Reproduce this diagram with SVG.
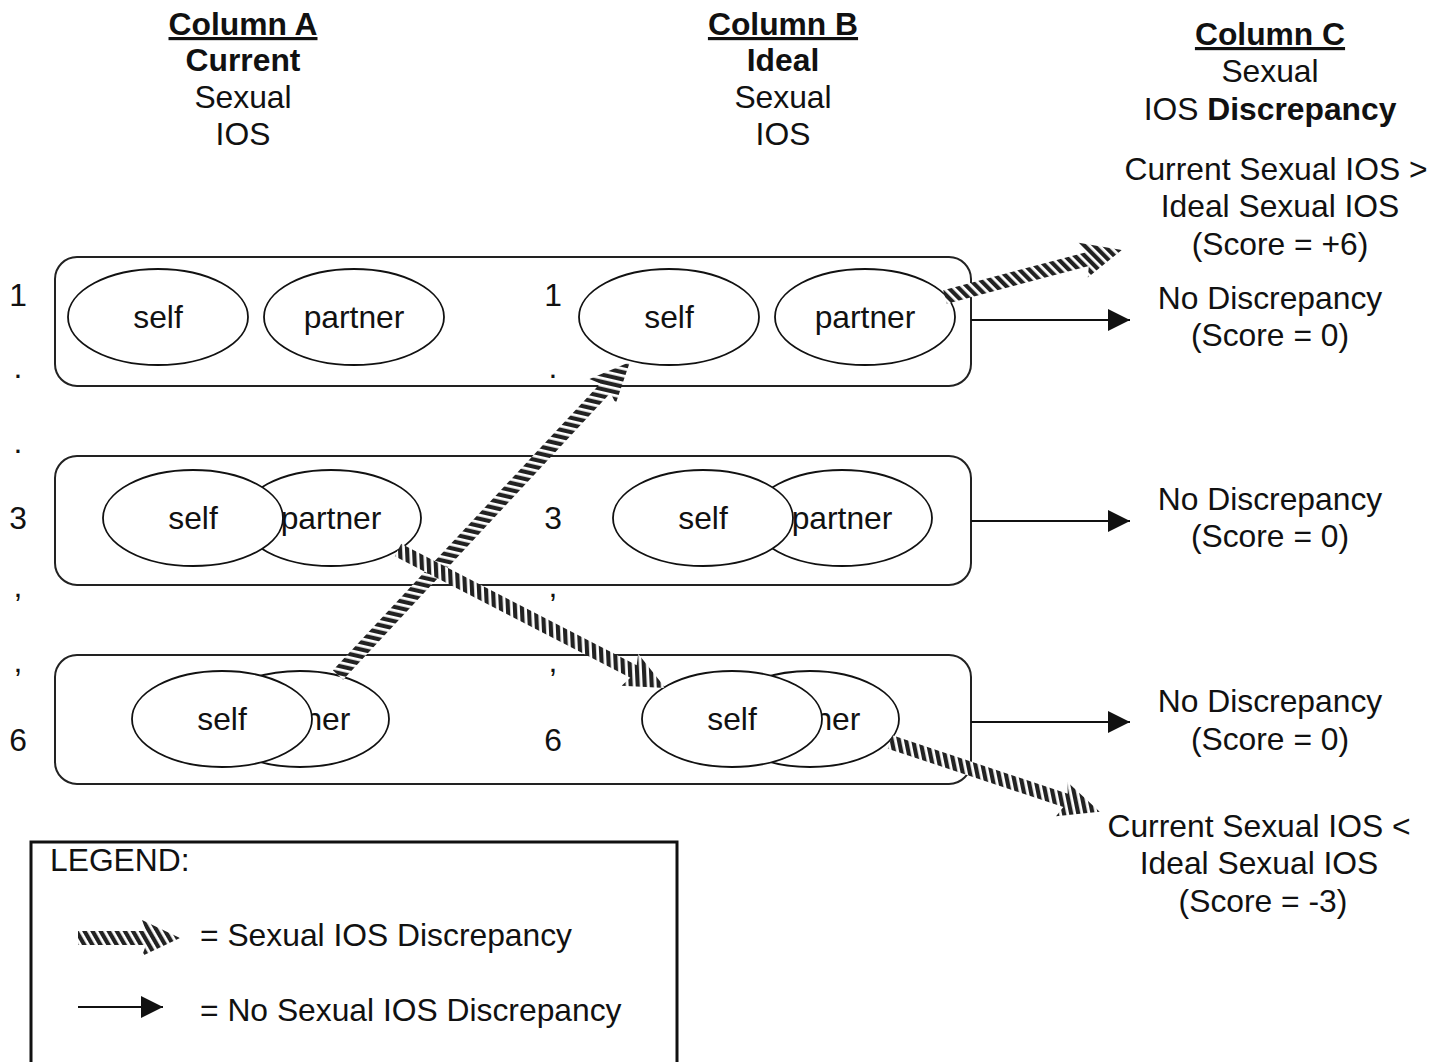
<svg xmlns="http://www.w3.org/2000/svg" width="1435" height="1062" viewBox="0 0 1435 1062">
<defs>
<style>
text{font-family:"Liberation Sans",Arial,sans-serif;font-size:31.8px;fill:#111;}
.c{text-anchor:middle;}
.b{font-weight:bold;}
.u{text-decoration:underline;}
.box{fill:none;stroke:#222;stroke-width:2;}
.ell{fill:#fff;stroke:#111;stroke-width:1.8;}
.line{stroke:#111;stroke-width:2;fill:none;}
.hatch{fill:url(#stripes);}
</style>
<pattern id="stripes" patternUnits="userSpaceOnUse" width="7" height="7" patternTransform="rotate(-30)">
<rect width="7" height="7" fill="#fff"/>
<rect width="4.2" height="7" fill="#222"/>
</pattern>
<marker id="ahb" viewBox="0 0 10 10" refX="10" refY="5" markerWidth="26" markerHeight="22" markerUnits="userSpaceOnUse" orient="auto">
<path d="M0,0 L10,5 L0,10 z" fill="#111"/>
</marker>
</defs>
<rect width="1435" height="1062" fill="#fff"/>

<g id="headers">
<text x="243" y="35" class="c b u">Column A</text>
<text x="243" y="71" class="c b">Current</text>
<text x="243" y="108" class="c">Sexual</text>
<text x="243" y="145" class="c">IOS</text>
<text x="783" y="35" class="c b u">Column B</text>
<text x="783" y="71" class="c b">Ideal</text>
<text x="783" y="108" class="c">Sexual</text>
<text x="783" y="145" class="c">IOS</text>
<text x="1270" y="45" class="c b u">Column C</text>
<text x="1270" y="82" class="c">Sexual</text>
<text x="1270" y="120" class="c">IOS <tspan class="b">Discrepancy</tspan></text>
</g>

<g id="row-numbers">
<text x="18" y="306" class="c">1</text>
<text x="18" y="378" class="c">.</text>
<text x="18" y="453" class="c">.</text>
<text x="18" y="529" class="c">3</text>
<text x="18" y="597" class="c">,</text>
<text x="18" y="672" class="c">,</text>
<text x="18" y="751" class="c">6</text>
<text x="553" y="306" class="c">1</text>
<text x="553" y="378" class="c">.</text>
<text x="553" y="453" class="c">.</text>
<text x="553" y="529" class="c">3</text>
<text x="553" y="597" class="c">,</text>
<text x="553" y="672" class="c">,</text>
<text x="553" y="751" class="c">6</text>
</g>

<g id="row1">
<rect class="box" x="55" y="257" width="916" height="129" rx="22"/>
<ellipse class="ell" cx="158" cy="317" rx="90" ry="48"/>
<text x="158" y="328" class="c">self</text>
<ellipse class="ell" cx="354" cy="317" rx="90" ry="48"/>
<text x="354" y="328" class="c">partner</text>
<ellipse class="ell" cx="669" cy="317" rx="90" ry="48"/>
<text x="669" y="328" class="c">self</text>
<ellipse class="ell" cx="865" cy="317" rx="90" ry="48"/>
<text x="865" y="328" class="c">partner</text>
</g>

<g id="row2">
<rect class="box" x="55" y="456" width="916" height="129" rx="22"/>
<ellipse class="ell" cx="331" cy="518" rx="90" ry="48"/>
<ellipse class="ell" cx="193" cy="518" rx="90" ry="48"/>
<text x="331" y="529" class="c">partner</text>
<text x="193" y="529" class="c">self</text>
<ellipse class="ell" cx="842" cy="518" rx="90" ry="48"/>
<ellipse class="ell" cx="703" cy="518" rx="90" ry="48"/>
<text x="842" y="529" class="c">partner</text>
<text x="703" y="529" class="c">self</text>
</g>

<g id="row3">
<rect class="box" x="55" y="655" width="916" height="129" rx="22"/>
<ellipse class="ell" cx="300" cy="719" rx="89" ry="48"/>
<text x="300" y="730" class="c">partner</text>
<ellipse class="ell" cx="222" cy="719" rx="90" ry="48"/>
<text x="222" y="730" class="c">self</text>
<ellipse class="ell" cx="810" cy="719" rx="89" ry="48"/>
<text x="810" y="730" class="c">partner</text>
<ellipse class="ell" cx="732" cy="719" rx="90" ry="48"/>
<text x="732" y="730" class="c">self</text>
</g>

<g id="col-c-labels">
<text x="1276" y="180" class="c">Current Sexual IOS &gt;</text>
<text x="1280" y="217" class="c">Ideal Sexual IOS</text>
<text x="1280" y="255" class="c">(Score = +6)</text>
<text x="1270" y="309" class="c">No Discrepancy</text>
<text x="1270" y="346" class="c">(Score = 0)</text>
<text x="1270" y="510" class="c">No Discrepancy</text>
<text x="1270" y="547" class="c">(Score = 0)</text>
<text x="1270" y="712" class="c">No Discrepancy</text>
<text x="1270" y="750" class="c">(Score = 0)</text>
<text x="1259" y="837" class="c">Current Sexual IOS &lt;</text>
<text x="1259" y="874" class="c">Ideal Sexual IOS</text>
<text x="1263" y="912" class="c">(Score = -3)</text>
</g>

<g id="connectors">
<line class="line" x1="971" y1="320" x2="1130" y2="320" marker-end="url(#ahb)"/>
<line class="line" x1="971" y1="521" x2="1130" y2="521" marker-end="url(#ahb)"/>
<line class="line" x1="971" y1="722" x2="1130" y2="722" marker-end="url(#ahb)"/>
<g transform="translate(338,675) rotate(-47)"><polygon class="hatch" points="0,-7 392,-7 388,-18 428,0 388,18 392,7 0,7"/></g>
<g transform="translate(398,550) rotate(27.3)"><polygon class="hatch" points="0,-7 265,-7 261,-18 301,0 261,18 265,7 0,7"/></g>
<g transform="translate(945,297) rotate(-14.9)"><polygon class="hatch" points="0,-7 147,-7 143,-18 183,0 143,18 147,7 0,7"/></g>
<g transform="translate(890,742) rotate(18.4)"><polygon class="hatch" points="0,-7 185,-7 181,-18 221,0 181,18 185,7 0,7"/></g>
</g>

<g id="legend">
<rect x="31" y="842" width="646" height="240" fill="none" stroke="#111" stroke-width="3"/>
<text x="50" y="871">LEGEND:</text>
<g transform="translate(78,938)"><polygon class="hatch" points="0,-7 68,-7 64,-18 102,0 64,18 68,7 0,7"/></g>
<text x="200" y="946">= Sexual IOS Discrepancy</text>
<line class="line" x1="78" y1="1007" x2="163" y2="1007" marker-end="url(#ahb)"/>
<text x="200" y="1021">= No Sexual IOS Discrepancy</text>
</g>
</svg>
